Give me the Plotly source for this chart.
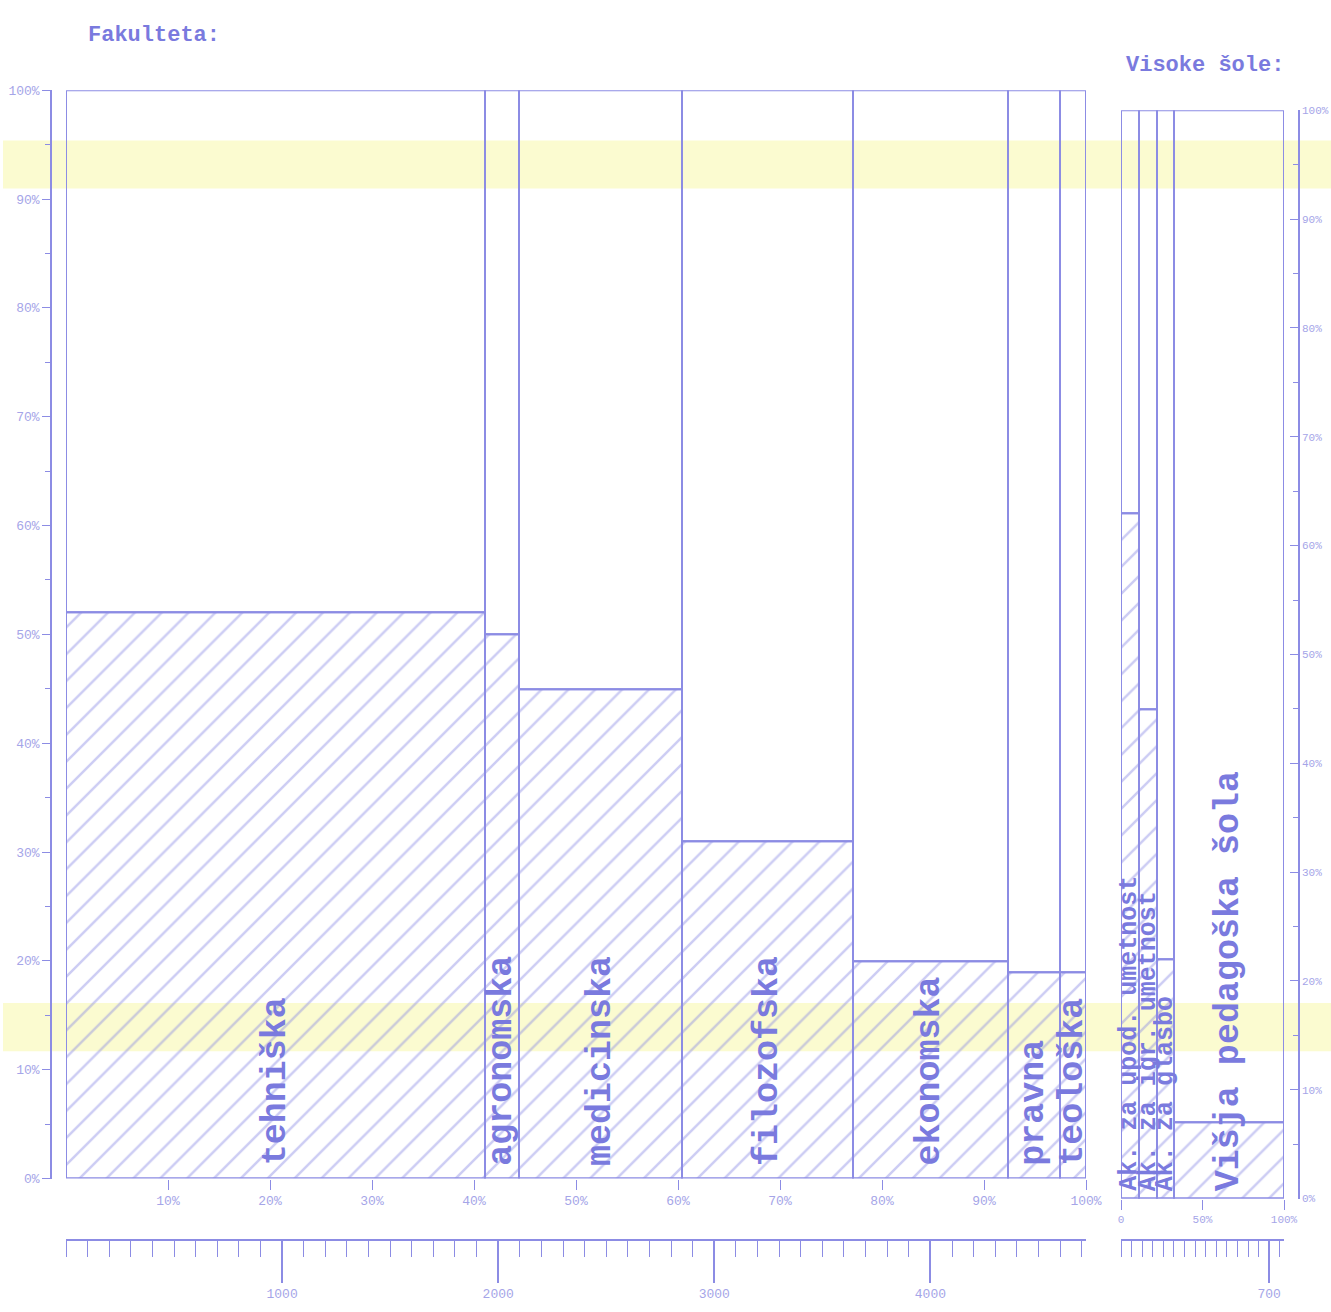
import plotly.graph_objects as go
import numpy as np

# ---------------- data ----------------
fac_names = ["tehniška", "agronomska", "medicinska", "filozofska",
             "ekonomska", "pravna", "teološka"]
fac_students = [1940, 155, 755, 790, 720, 240, 120]      # bar widths
fac_share = [52, 50, 45, 31, 20, 19, 19]                   # hatched share (%)

vs_names = ["Ak. za upod. umetnost", "Ak. za igr. umetnost",
            "Ak. za glasbo", "Višja pedagoška šola"]
vs_students = [85, 85, 80, 520]
vs_share = [63, 45, 22, 7]

y_tickvals = [0, 10, 20, 30, 40, 50, 60, 70, 80, 90, 100]
y_ticktext = ["0%", "10%", "20%", "30%", "40%", "50%", "60%", "70%", "80%", "90%", "100%"]
pct_tickvals = [10, 20, 30, 40, 50, 60, 70, 80, 90, 100]
pct_ticktext = ["10%", "20%", "30%", "40%", "50%", "60%", "70%", "80%", "90%", "100%"]
count_tickvals = [1000, 2000, 3000, 4000]
count_ticktext = ["1000", "2000", "3000", "4000"]
vs_count_tickvals = [700]
vs_count_ticktext = ["700"]
vs_pct_tickvals = [0, 50, 100]
vs_pct_ticktext = ["0", "50%", "100%"]

# ---------------- style ----------------
W, H = 1350, 1331          # rendered figure size
RW, RH = 1331, 1312        # reference picture size (positions given in its pixels)
DX, DY = 2, 6              # small render offset compensation
LINE = "rgb(140,140,228)"
TEXT = "rgb(122,122,222)"
TICKTXT = "rgb(165,165,232)"
HATCH = "rgba(135,135,228,0.85)"
MONO = "Liberation Mono"


def px_x(p):
    return (p - DX) / RW


def px_y(p):
    return 1 - (p - DY) / RH


def geometry(widths):
    w = np.array(widths, dtype=float)
    left = np.cumsum(w) - w
    return left + w / 2, w, w.sum()


fac_c, fac_w, fac_total = geometry(fac_students)
vs_c, vs_w, vs_total = geometry(vs_students)

fig = go.Figure()


def add_panel(centers, widths, share, xa, ya, xpct, total):
    share = np.array(share, dtype=float)
    fig.add_trace(go.Bar(
        x=centers, y=share, width=widths, base=0,
        xaxis=xa, yaxis=ya, showlegend=False, hoverinfo="skip",
        marker=dict(color="rgba(0,0,0,0)",
                    line=dict(color=LINE, width=2),
                    pattern=dict(shape="/", fgcolor=HATCH, bgcolor="rgba(0,0,0,0)",
                                 size=19, solidity=0.13))))
    fig.add_trace(go.Bar(
        x=centers, y=100 - share, width=widths, base=share,
        xaxis=xa, yaxis=ya, showlegend=False, hoverinfo="skip",
        marker=dict(color="rgba(0,0,0,0)", line=dict(color=LINE, width=2))))
    # invisible helper so the cumulative-percent scale is drawn
    cum_pct = np.cumsum(widths) / total * 100
    fig.add_trace(go.Scatter(
        x=cum_pct, y=np.zeros(len(cum_pct)), xaxis=xpct, yaxis=ya,
        mode="markers", marker=dict(opacity=0), showlegend=False, hoverinfo="skip"))


add_panel(fac_c, fac_w, fac_share, "x", "y", "x3", fac_total)
add_panel(vs_c, vs_w, vs_share, "x2", "y2", "x4", vs_total)

annotations = []
for c, n in zip(fac_c, fac_names):
    annotations.append(dict(x=c, y=1.0, xref="x", yref="y", text="<b>" + n + "</b>",
                            textangle=-90, showarrow=False, xanchor="center", yanchor="bottom",
                            font=dict(family=MONO, size=35, color=TEXT)))
for i, (c, n) in enumerate(zip(vs_c, vs_names)):
    annotations.append(dict(x=c, y=0.5, xref="x2", yref="y2", text="<b>" + n + "</b>",
                            textangle=-90, showarrow=False, xanchor="center", yanchor="bottom",
                            font=dict(family=MONO, size=35 if i == 3 else 25, color=TEXT)))

annotations.append(dict(x=px_x(85), y=px_y(35), xref="paper", yref="paper",
                        text="<b>Fakulteta:</b>", showarrow=False, xanchor="left", yanchor="middle",
                        font=dict(family=MONO, size=22, color=TEXT)))
annotations.append(dict(x=px_x(1123), y=px_y(65), xref="paper", yref="paper",
                        text="<b>Visoke šole:</b>", showarrow=False, xanchor="left", yanchor="middle",
                        font=dict(family=MONO, size=22, color=TEXT)))

band1 = dict(type="rect", xref="paper", yref="paper", x0=0, x1=1,
             y0=px_y(188), y1=px_y(140), fillcolor="rgba(250,250,200,0.85)",
             line=dict(width=0), layer="below")
band2 = dict(type="rect", xref="paper", yref="paper", x0=0, x1=1,
             y0=px_y(1048), y1=px_y(1000), fillcolor="rgba(250,250,200,0.85)",
             line=dict(width=0), layer="below")

tickfont = dict(family=MONO, size=13, color=TICKTXT)
tickfont_r = dict(family=MONO, size=11, color=TICKTXT)

fig.update_layout(
    width=W, height=H,
    margin=dict(l=0, r=0, t=0, b=0),
    paper_bgcolor="white", plot_bgcolor="rgba(0,0,0,0)",
    barmode="overlay", bargap=0,
    showlegend=False,
    annotations=annotations,
    shapes=[band1, band2],
    xaxis=dict(domain=[px_x(65), px_x(1085)], range=[0, fac_total],
               anchor="free", position=px_y(1236),
               showline=True, linecolor=LINE, linewidth=1.5,
               ticks="outside", ticklen=42, tickcolor=LINE, tickwidth=1.5,
               tickvals=count_tickvals, ticktext=count_ticktext, tickfont=tickfont,
               minor=dict(dtick=100, ticks="outside", ticklen=16, tickcolor=LINE, tickwidth=1.2),
               showgrid=False, zeroline=False, fixedrange=True),
    xaxis3=dict(overlaying="x", range=[0, 100], anchor="y", side="bottom",
                showline=False, ticks="outside", ticklen=10, tickcolor=LINE,
                tickvals=pct_tickvals, ticktext=pct_ticktext, tickfont=tickfont,
                showgrid=False, zeroline=False),
    yaxis=dict(domain=[px_y(1175), px_y(90)], range=[0, 100],
               anchor="free", position=px_x(50), side="left",
               showline=True, linecolor=LINE, linewidth=1.5,
               ticks="outside", ticklen=8, tickcolor=LINE,
               tickvals=y_tickvals, ticktext=y_ticktext, tickfont=tickfont,
               minor=dict(dtick=5, ticks="outside", ticklen=5, tickcolor=LINE),
               showgrid=False, zeroline=False),
    xaxis2=dict(domain=[px_x(1120), px_x(1283)], range=[0, vs_total],
                anchor="free", position=px_y(1236),
                showline=True, linecolor=LINE, linewidth=1.5,
                ticks="outside", ticklen=42, tickcolor=LINE, tickwidth=1.5,
                tickvals=vs_count_tickvals, ticktext=vs_count_ticktext, tickfont=tickfont,
                minor=dict(dtick=50, ticks="outside", ticklen=16, tickcolor=LINE, tickwidth=1.2),
                showgrid=False, zeroline=False),
    xaxis4=dict(overlaying="x2", range=[0, 100], anchor="y2", side="bottom",
                showline=False, ticks="outside", ticklen=10, tickcolor=LINE,
                tickvals=vs_pct_tickvals, ticktext=vs_pct_ticktext, tickfont=tickfont_r,
                showgrid=False, zeroline=False),
    yaxis2=dict(domain=[px_y(1195), px_y(110)], range=[0, 100],
                anchor="free", position=px_x(1298), side="right",
                showline=True, linecolor=LINE, linewidth=1.5,
                ticks="inside", ticklen=8, tickcolor=LINE,
                tickvals=y_tickvals, ticktext=y_ticktext, tickfont=tickfont_r,
                minor=dict(dtick=5, ticks="inside", ticklen=5, tickcolor=LINE),
                showgrid=False, zeroline=False),
)

fig.write_html(
    "out.html",
    config={"displayModeBar": False, "responsive": False},
    post_script=("document.documentElement.style.margin='0';"
                 "document.body.style.margin='0';"
                 "document.body.style.overflow='hidden';"),
)
